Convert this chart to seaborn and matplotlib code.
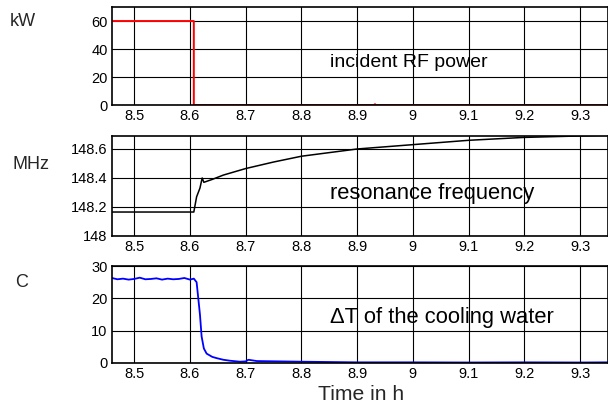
import numpy as np
import pandas as pd
import seaborn as sns
import matplotlib.pyplot as plt

# --- Data ---
power_time = [8.46, 8.607, 8.607, 8.93, 8.932, 8.934, 9.35]
power_kw = [60, 60, 0, 0, 0.6, 0, 0]

freq_time = [8.46, 8.607, 8.612, 8.618, 8.622, 8.625, 8.64, 8.66, 8.70, 8.75, 8.80,
             8.85, 8.90, 8.95, 9.00, 9.05, 9.10, 9.15, 9.20, 9.25, 9.30, 9.35]
freq_mhz = [148.165, 148.165, 148.27, 148.33, 148.40, 148.37, 148.39, 148.42, 148.465,
            148.51, 148.55, 148.575, 148.60, 148.615, 148.63, 148.645, 148.66, 148.67,
            148.68, 148.685, 148.69, 148.695]

dt_time = [8.46, 8.47, 8.48, 8.49, 8.50, 8.51, 8.52, 8.53, 8.54, 8.55, 8.56, 8.57,
           8.58, 8.59, 8.60, 8.607, 8.612, 8.618, 8.621, 8.625, 8.630, 8.640, 8.648,
           8.660, 8.672, 8.690, 8.700, 8.705, 8.720, 8.760, 8.800, 8.850, 8.900,
           9.000, 9.100, 9.200, 9.300, 9.35]
dt_c = [26.3, 25.9, 26.1, 25.8, 26.0, 26.4, 25.9, 26.0, 26.2, 25.8, 26.1, 25.9,
        26.0, 26.3, 25.8, 26.1, 25.0, 15.0, 8.2, 4.5, 2.9, 1.9, 1.5, 1.0, 0.7, 0.4,
        0.5, 1.0, 0.6, 0.5, 0.4, 0.3, 0.2, 0.2, 0.15, 0.2, 0.15, 0.2]

panel_labels = ["kW", "MHz", "C"]
panel_texts = ["incident RF power", "resonance frequency", "\u0394T of the cooling water"]
xticks = [8.5, 8.6, 8.7, 8.8, 8.9, 9.0, 9.1, 9.2, 9.3]
xtick_labels = ["8.5", "8.6", "8.7", "8.8", "8.9", "9", "9.1", "9.2", "9.3"]

sns.set_style("white")
plt.rcParams['font.family'] = ['Liberation Sans', 'DejaVu Sans']

fig = plt.figure(figsize=(6.08, 4.04), dpi=100)
positions = [
    [0.184, 0.740, 0.816, 0.2426],
    [0.184, 0.416, 0.816, 0.2475],
    [0.184, 0.1015, 0.816, 0.240],
]
axes = [fig.add_axes(p) for p in positions]

sns.lineplot(x=power_time, y=power_kw, ax=axes[0], color="#ff0000", linewidth=1.4,
             estimator=None, sort=False)
sns.lineplot(x=freq_time, y=freq_mhz, ax=axes[1], color="black", linewidth=1.1,
             estimator=None, sort=False)
sns.lineplot(x=dt_time, y=dt_c, ax=axes[2], color="#0000ff", linewidth=1.3,
             estimator=None, sort=False)

ylims = [(0, 70), (148, 148.69), (0, 30)]
yticks = [[0, 20, 40, 60], [148, 148.2, 148.4, 148.6], [0, 10, 20, 30]]
ytick_labels = [["0", "20", "40", "60"], ["148", "148.2", "148.4", "148.6"],
                ["0", "10", "20", "30"]]
text_y = [0.43, 0.425, 0.47]
text_size = [14, 15.8, 15.8]
label_pos = [(0.016, 0.946), (0.020, 0.594), (0.025, 0.300)]

for i, ax in enumerate(axes):
    ax.set_xlim(8.46, 9.35)
    ax.set_ylim(*ylims[i])
    ax.set_xticks(xticks)
    ax.set_xticklabels(xtick_labels)
    ax.set_yticks(yticks[i])
    ax.set_yticklabels(ytick_labels[i])
    ax.grid(True, color="black", linewidth=0.8)
    ax.tick_params(direction="in", length=3, labelsize=10.5, colors="black", pad=3)
    for side in ["left", "top", "bottom", "right"]:
        ax.spines[side].set_color("black")
        ax.spines[side].set_linewidth(1.2)
    ax.set_xlabel("")
    ax.set_ylabel("")
    ax.text(8.851, ylims[i][0] + text_y[i] * (ylims[i][1] - ylims[i][0]), panel_texts[i],
            fontsize=text_size[i], va="center", ha="left", color="black")
    fig.text(label_pos[i][0], label_pos[i][1], panel_labels[i],
             fontsize=13, va="center", ha="left")

fig.text(0.594, 0.01, "Time in h", fontsize=15.2, ha="center", va="baseline")

fig.savefig("out.png", dpi=100)
